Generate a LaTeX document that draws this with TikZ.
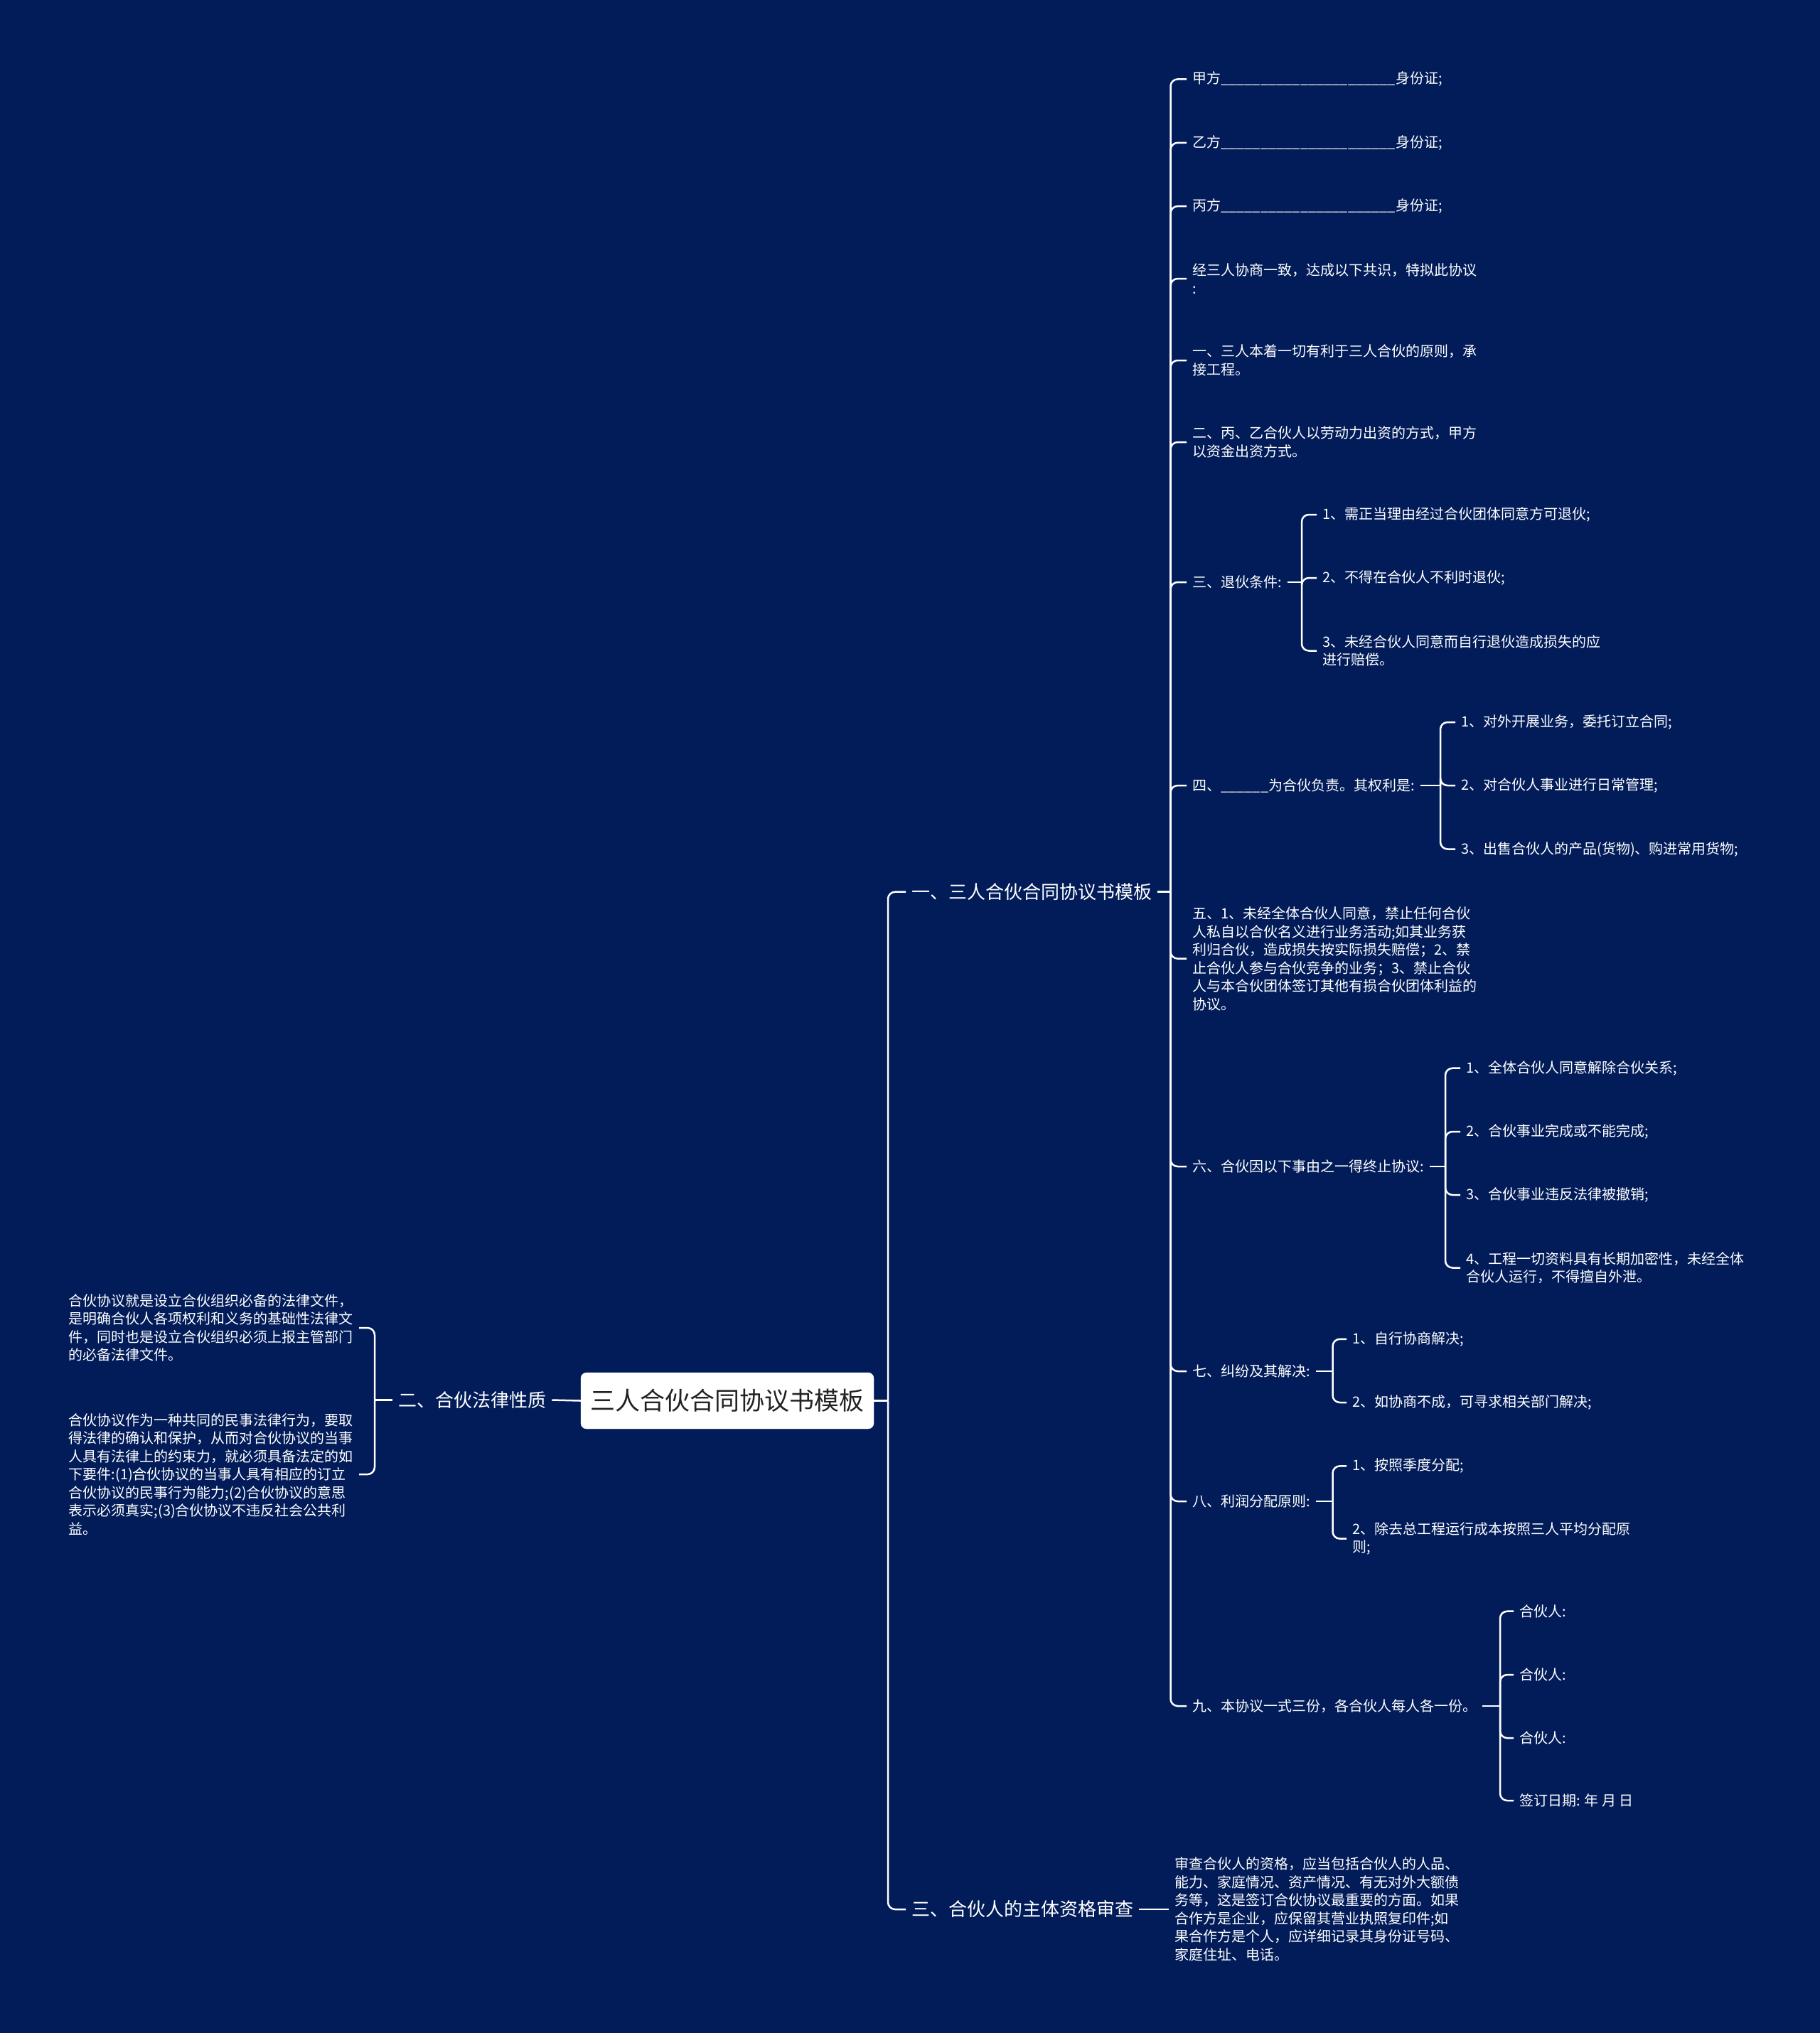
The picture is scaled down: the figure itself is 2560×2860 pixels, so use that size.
\documentclass[tikz,border=0pt]{standalone}
\usepackage{fontspec}
\setmainfont{Noto Sans CJK SC}
\definecolor{bg}{HTML}{011C59}
\definecolor{roottext}{HTML}{222222}
\begin{document}
\begin{tikzpicture}[x=1pt,y=-1pt,
  conn/.style={draw=white,line width=2.5pt,rounded corners=10pt},
  lvone/.style={anchor=west,text=white,font=\fontsize{26}{32}\selectfont,inner xsep=8pt,inner ysep=2pt},
  leaf/.style={anchor=west,text=white,font=\fontsize{20}{25.5}\selectfont,align=left,inner xsep=8pt,inner ysep=2pt},
  rootbox/.style={fill=white,draw=white,rounded corners=8pt,minimum width=412pt,minimum height=79pt,text=roottext,font=\fontsize{35}{42}\selectfont,inner sep=0pt}
]
\fill[bg] (0,0) rectangle (2560,2860);
\useasboundingbox (0,0) rectangle (2560,2860);

\begin{scope}[yshift=-2pt]
% root
\node[rootbox] (root) at (1023,1968.5) {三人合伙合同协议书模板};

% level one
\node[lvone] (b1) at (1274,1252.7) {一、三人合伙合同协议书模板};
\node[lvone] (b2) at (552,1967.5) {二、合伙法律性质};
\node[lvone] (b3) at (1274,2684) {三、合伙人的主体资格审查};

% children of b1
\node[leaf] (a1) at (1669,109.4) {甲方\_\_\_\_\_\_\_\_\_\_\_\_\_\_\_\_\_\_\_\_\_\_身份证;};
\node[leaf] (a2) at (1669,198.8) {乙方\_\_\_\_\_\_\_\_\_\_\_\_\_\_\_\_\_\_\_\_\_\_身份证;};
\node[leaf] (a3) at (1669,288.1) {丙方\_\_\_\_\_\_\_\_\_\_\_\_\_\_\_\_\_\_\_\_\_\_身份证;};
\node[leaf] (a4) at (1669,390) {经三人协商一致，达成以下共识，特拟此协议\\:};
\node[leaf] (a5) at (1669,505) {一、三人本着一切有利于三人合伙的原则，承\\接工程。};
\node[leaf] (a6) at (1669,620) {二、丙、乙合伙人以劳动力出资的方式，甲方\\以资金出资方式。};
\node[leaf] (a7) at (1669,817) {三、退伙条件:};
\node[leaf] (a8) at (1669,1103) {四、\_\_\_\_\_\_为合伙负责。其权利是:};
\node[leaf] (a9) at (1669,1346.6) {五、1、未经全体合伙人同意，禁止任何合伙\\人私自以合伙名义进行业务活动;如其业务获\\利归合伙，造成损失按实际损失赔偿；2、禁\\止合伙人参与合伙竞争的业务；3、禁止合伙\\人与本合伙团体签订其他有损合伙团体利益的\\协议。};
\node[leaf] (a10) at (1669,1639) {六、合伙因以下事由之一得终止协议:};
\node[leaf] (a11) at (1669,1927) {七、纠纷及其解决:};
\node[leaf] (a12) at (1669,2110) {八、利润分配原则:};
\node[leaf] (a13) at (1669,2398) {九、本协议一式三份，各合伙人每人各一份。};

% children of a7
\node[leaf] (c71) at (1852,722) {1、需正当理由经过合伙团体同意方可退伙;};
\node[leaf] (c72) at (1852,811) {2、不得在合伙人不利时退伙;};
\node[leaf] (c73) at (1852,913.5) {3、未经合伙人同意而自行退伙造成损失的应\\进行赔偿。};

% children of a8
\node[leaf] (c81) at (2047,1014) {1、对外开展业务，委托订立合同;};
\node[leaf] (c82) at (2047,1103) {2、对合伙人事业进行日常管理;};
\node[leaf] (c83) at (2047,1192.5) {3、出售合伙人的产品(货物)、购进常用货物;};

% children of a10
\node[leaf] (c101) at (2054,1500.7) {1、全体合伙人同意解除合伙关系;};
\node[leaf] (c102) at (2054,1590) {2、合伙事业完成或不能完成;};
\node[leaf] (c103) at (2054,1679) {3、合伙事业违反法律被撤销;};
\node[leaf] (c104) at (2054,1781.5) {4、工程一切资料具有长期加密性，未经全体\\合伙人运行，不得擅自外泄。};

% children of a11
\node[leaf] (c111) at (1894,1881.8) {1、自行协商解决;};
\node[leaf] (c112) at (1894,1971) {2、如协商不成，可寻求相关部门解决;};

% children of a12
\node[leaf] (c121) at (1894,2060.4) {1、按照季度分配;};
\node[leaf] (c122) at (1894,2162.6) {2、除去总工程运行成本按照三人平均分配原\\则;};

% children of a13
\node[leaf] (c131) at (2129,2264.7) {合伙人:};
\node[leaf] (c132) at (2129,2354) {合伙人:};
\node[leaf] (c133) at (2129,2443) {合伙人:};
\node[leaf] (c134) at (2129,2531) {签订日期: 年 月 日};

% child of b3
\node[leaf] (d1) at (1644,2684) {审查合伙人的资格，应当包括合伙人的人品、\\能力、家庭情况、资产情况、有无对外大额债\\务等，这是签订合伙协议最重要的方面。如果\\合作方是企业，应保留其营业执照复印件;如\\果合作方是个人，应详细记录其身份证号码、\\家庭住址、电话。};

% children of b2
\node[leaf] (e1) at (88.6,1866) {合伙协议就是设立合伙组织必备的法律文件，\\是明确合伙人各项权利和义务的基础性法律文\\件，同时也是设立合伙组织必须上报主管部门\\的必备法律文件。};
\node[leaf] (e2) at (88.6,2072) {合伙协议作为一种共同的民事法律行为，要取\\得法律的确认和保护，从而对合伙协议的当事\\人具有法律上的约束力，就必须具备法定的如\\下要件:(1)合伙协议的当事人具有相应的订立\\合伙协议的民事行为能力;(2)合伙协议的意思\\表示必须真实;(3)合伙协议不违反社会公共利\\益。};

% trunk coordinates
\coordinate (tR) at (1249,1968.5);
\coordinate (tL) at (527,1967.5);
\coordinate (t1) at (1646.5,1252.7);
\coordinate (t7) at (1831,817);
\coordinate (t8) at (2026,1103);
\coordinate (t10) at (2033,1639);
\coordinate (t11) at (1874.5,1927);
\coordinate (t12) at (1874.5,2110);
\coordinate (t13) at (2110,2398);

% root connectors
\draw[conn] (root.east) -- (tR);
\draw[conn] (tR) |- (b1.west);
\draw[conn] (tR) |- (b3.west);
\draw[conn] (root.west) -- (b2.east);
\draw[conn] (b3.east) -- (d1.west);

% left side
\draw[conn] (b2.west) -- (tL);
\foreach \c in {e1,e2} { \draw[conn] (tL) |- (\c.east); }

% b1 children
\draw[conn] (b1.east) -- (t1);
\foreach \c in {a1,a2,a3,a4,a5,a6,a7,a8,a9,a10,a11,a12,a13} { \draw[conn] (t1) |- (\c.west); }

\draw[conn] (a7.east) -- (t7);
\foreach \c in {c71,c72,c73} { \draw[conn] (t7) |- (\c.west); }
\draw[conn] (a8.east) -- (t8);
\foreach \c in {c81,c82,c83} { \draw[conn] (t8) |- (\c.west); }
\draw[conn] (a10.east) -- (t10);
\foreach \c in {c101,c102,c103,c104} { \draw[conn] (t10) |- (\c.west); }
\draw[conn] (a11.east) -- (t11);
\foreach \c in {c111,c112} { \draw[conn] (t11) |- (\c.west); }
\draw[conn] (a12.east) -- (t12);
\foreach \c in {c121,c122} { \draw[conn] (t12) |- (\c.west); }
\draw[conn] (a13.east) -- (t13);
\foreach \c in {c131,c132,c133,c134} { \draw[conn] (t13) |- (\c.west); }
\end{scope}
\end{tikzpicture}
\end{document}
